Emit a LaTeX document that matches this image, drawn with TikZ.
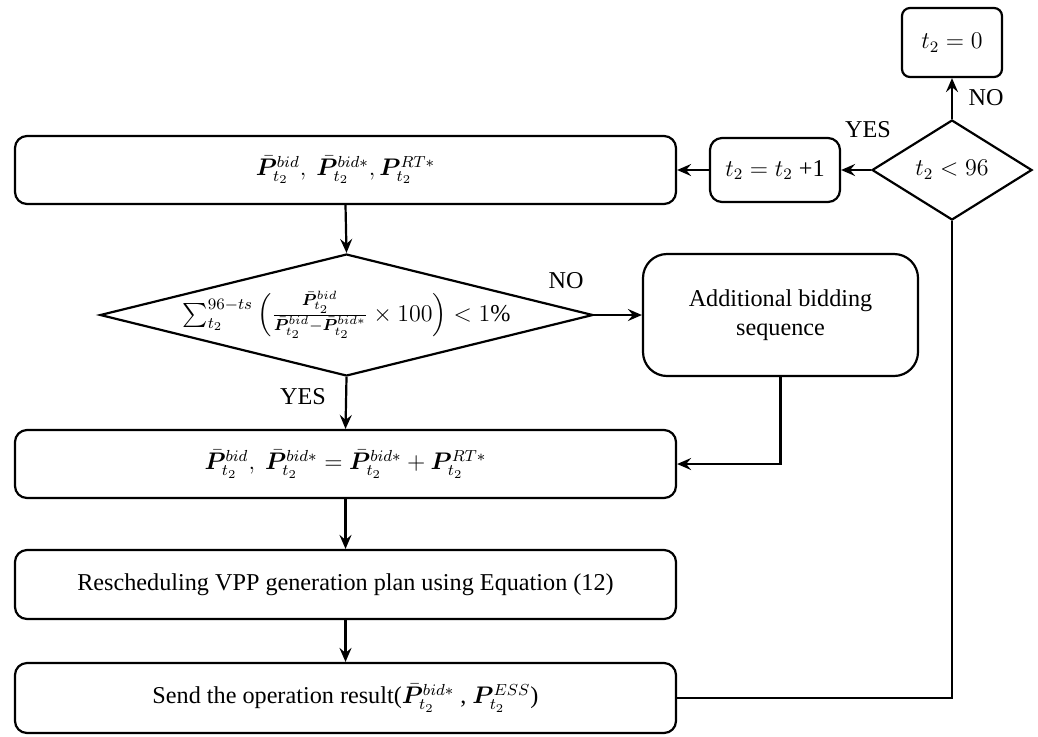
\documentclass[tikz,border=0pt]{standalone}
\usepackage{amsmath}
\usepackage{bm}
\usepackage{fontspec}
\setmainfont{Liberation Serif}
\usetikzlibrary{shapes.geometric,arrows.meta}

\tikzset{
  procbox/.style={draw, rounded corners=6pt, align=center, inner sep=0pt},
  widebox/.style={procbox, minimum width=330.5pt, minimum height=34pt},
  decbox/.style={draw, shape=diamond, inner sep=0pt},
  lbl/.style={inner sep=0pt}
}
\newcommand{\Pbar}{\bar{\bm{P}}}

\begin{document}
\begin{tikzpicture}[x=0.5pt, y=-0.5pt, font=\fontsize{12.1}{14.5}\selectfont,
    line width=1.1pt, >={Stealth[length=7pt,width=6pt,inset=2.5pt]}]
  \useasboundingbox (0,0) rectangle (1038,736);

  % loop counter
  \node[procbox, rounded corners=4pt, minimum width=50pt, minimum height=34.5pt] (reset) at (952,42.5) {$t_2 = 0$};
  \node[decbox, aspect=1.6, minimum width=80pt, minimum height=50pt] (chk) at (952,170) {$t_2 < 96$};
  \node[procbox, minimum width=65pt, minimum height=32pt] (incr) at (775,170) {$t_2 = t_2$ +1};

  % main column
  \node[widebox] (cfg) at (345.5,170) {$\Pbar_{t_2}^{bid},\ \Pbar_{t_2}^{bid*}, \bm{P}_{t_2}^{RT*}$};
  \node[decbox, aspect=4, inner ysep=-8pt, minimum width=246.5pt, minimum height=61pt] (conv) at (346.5,315)
    {$\sum_{t_2}^{96-ts}\left(\frac{\Pbar_{t_2}^{bid}}{\Pbar_{t_2}^{bid}-\Pbar_{t_2}^{bid*}}\times 100\right) < 1\%$};
  \node[procbox, rounded corners=12pt, minimum width=137.5pt, minimum height=61pt] (extra) at (780.5,315)
    {Additional bidding\\sequence};
  \node[widebox] (upd) at (345.5,464) {$\Pbar_{t_2}^{bid},\ \Pbar_{t_2}^{bid*} = \Pbar_{t_2}^{bid*} + \bm{P}_{t_2}^{RT*}$};
  \node[widebox, minimum height=34.5pt] (resched) at (345.5,584.5) {Rescheduling VPP generation plan using Equation (12)};
  \node[widebox, minimum height=35pt] (send) at (345.5,698) {Send the operation result($\Pbar_{t_2}^{bid*}$ , $\bm{P}_{t_2}^{ESS}$)};

  % labels
  \node[lbl] (no1) at (986,98) {NO};
  \node[lbl] (yes1) at (868,130) {YES};
  \node[lbl] (no2) at (566,281) {NO};
  \node[lbl] (yes2) at (303,397) {YES};

  % connectors
  \draw[->] (chk.north) -- (reset.south);
  \draw[->] (chk.west) -- (incr.east);
  \draw[->] (incr.west) -- (cfg.east);
  \draw[->] (cfg.south) -- (conv.north);
  \draw[->] (conv.east) -- (extra.west);
  \draw[->] (conv.south) -- (upd.north);
  \draw[->] (extra.south) |- (upd.east);
  \draw[->] (upd.south) -- (resched.north);
  \draw[->] (resched.south) -- (send.north);
  \draw (send.east) -| (chk.south);
\end{tikzpicture}
\end{document}
